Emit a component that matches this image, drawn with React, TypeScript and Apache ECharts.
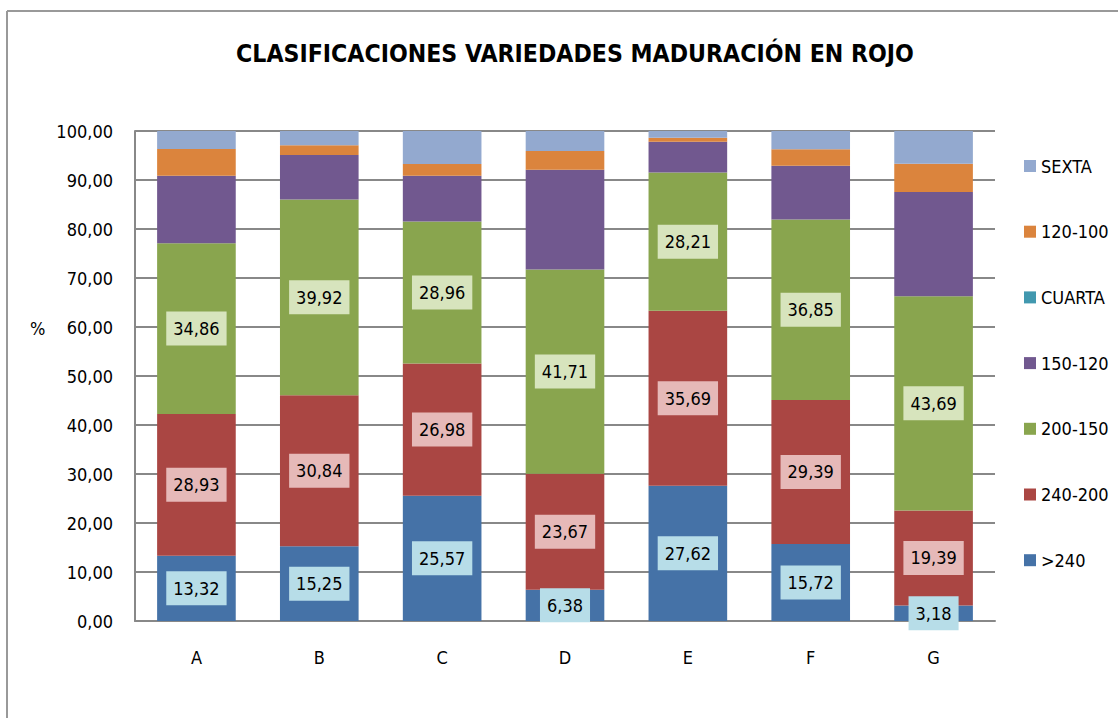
import React, { useEffect, useRef } from "react";
import * as echarts from "echarts";

const categories = ["A", "B", "C", "D", "E", "F", "G"];
const seriesNames = [">240", "240-200", "200-150", "150-120", "CUARTA", "120-100", "SEXTA"];
const v240 = [13.32, 15.25, 25.57, 6.38, 27.62, 15.72, 3.18];
const v240_200 = [28.93, 30.84, 26.98, 23.67, 35.69, 29.39, 19.39];
const v200_150 = [34.86, 39.92, 28.96, 41.71, 28.21, 36.85, 43.69];
const v150_120 = [13.77, 9.1, 9.37, 20.34, 6.28, 10.94, 21.29];
const vCuarta = [0, 0, 0, 0, 0, 0, 0];
const v120_100 = [5.45, 1.98, 2.39, 3.8, 0.8, 3.4, 5.75];
const vSexta = [3.67, 2.93, 6.73, 4.1, 1.4, 3.74, 6.7];
const yTicks = { min: 0, max: 100, interval: 10 };

const colors = ["#4572A7", "#AA4643", "#89A54E", "#71588F", "#4198AF", "#DB843D", "#93A9CF"];
const labelBgs = ["#B7DDE8", "#E6B9B8", "#D7E4BD"];
const FONT = "'Liberation Sans Narrow', 'DejaVu Sans Condensed', 'Liberation Sans', sans-serif";

const fmt = (v: number) => v.toFixed(2).replace(".", ",");

export default function App() {
  const ref = useRef<HTMLDivElement>(null);
  useEffect(() => {
    if (!ref.current) return;
    const chart = echarts.init(ref.current, undefined, { renderer: "svg" });
    const values = [v240, v240_200, v200_150, v150_120, vCuarta, v120_100, vSexta];
    const series = seriesNames.map((name, i) => ({
      name,
      type: "bar",
      stack: "total",
      data: values[i],
      barCategoryGap: "36%",
      itemStyle: { color: colors[i] },
      label:
        i < 3
          ? {
              show: true,
              position: "inside",
              formatter: (p: any) => fmt(p.value),
              color: "#000",
              fontFamily: FONT,
              fontSize: 18,
              backgroundColor: labelBgs[i],
              padding: [9, 7, 7, 7],
            }
          : { show: false },
    }));
    chart.setOption({
      animation: false,
      color: colors,
      textStyle: { fontFamily: FONT },
      title: {
        text: "CLASIFICACIONES VARIEDADES MADURACIÓN EN ROJO",
        left: 570,
        textAlign: "center",
        top: 36,
        textStyle: { fontFamily: FONT, fontSize: 24.6, fontWeight: "bold", color: "#000" },
      },
      legend: {
        orient: "vertical",
        left: 1019,
        top: 152,
        itemWidth: 12,
        itemHeight: 12,
        itemGap: 47.7,
        icon: "rect",
        data: [...seriesNames].reverse(),
        textStyle: { fontFamily: FONT, fontSize: 18, color: "#000" },
      },
      grid: { left: 135, right: 123, top: 131, bottom: 97, containLabel: false },
      xAxis: {
        type: "category",
        data: categories,
        axisLine: { lineStyle: { color: "#888", width: 2 } },
        axisTick: { show: false },
        axisLabel: { color: "#000", fontFamily: FONT, fontSize: 18, margin: 27 },
      },
      yAxis: {
        type: "value",
        min: yTicks.min,
        max: yTicks.max,
        interval: yTicks.interval,
        axisLine: { show: true, lineStyle: { color: "#888", width: 2 } },
        axisTick: { show: false },
        splitLine: { lineStyle: { color: "#888", width: 2 } },
        axisLabel: {
          color: "#000",
          fontFamily: FONT,
          fontSize: 18,
          margin: 22,
          formatter: (v: number) => fmt(v),
        },
      },
      graphic: [
        { type: "line", shape: { x1: 7, y1: 11, x2: 1118, y2: 11 }, style: { stroke: "#999", lineWidth: 2 } },
        { type: "line", shape: { x1: 7, y1: 11, x2: 7, y2: 718 }, style: { stroke: "#999", lineWidth: 2 } },
        {
          type: "text",
          left: 30,
          top: 319,
          style: { text: "%", fontFamily: FONT, fontSize: 18, fill: "#000" },
        },
      ],
      series,
    });
    return () => chart.dispose();
  }, []);
  return (
    <div
      ref={ref}
      style={{ position: "fixed", left: 0, top: 0, width: 1118, height: 718, background: "#fff" }}
    />
  );
}
